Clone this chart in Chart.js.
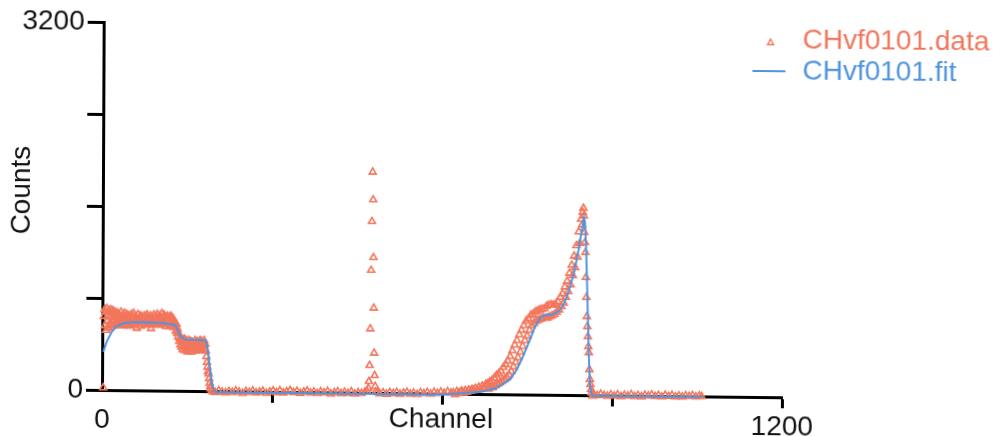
<!DOCTYPE html>
<html>
<head>
<meta charset="utf-8">
<script src="https://cdn.jsdelivr.net/npm/chart.js@4/dist/chart.umd.min.js"></script>
<style>
  html, body { margin: 0; padding: 0; background: #fff; }
  #wrap {
    position: relative; width: 1002px; height: 437px;
    transform: matrix(1, 0.0107, -0.0046, 1, 0, 0);
    transform-origin: 102px 390px;
  }
</style>
</head>
<body>
<div id="wrap"><canvas id="chart"></canvas></div>
<script>
// measured points (channel, counts)
const dataChannels = [
  2, 3,
  4, 5, 6, 7, 8, 9, 10, 11, 12, 13,
  14, 15, 16, 17, 18, 19, 20, 21, 22, 23,
  24, 25, 26, 27, 28, 29, 30, 31, 32, 33,
  34, 35, 36, 37, 38, 39, 40, 41, 42, 43,
  44, 45, 46, 47, 48, 49, 50, 51, 52, 53,
  54, 55, 56, 57, 58, 59, 60, 61, 62, 63,
  64, 65, 66, 67, 68, 69, 70, 71, 72, 73,
  74, 75, 76, 77, 78, 79, 80, 81, 82, 83,
  84, 85, 86, 87, 88, 89, 90, 91, 92, 93,
  94, 95, 96, 97, 98, 99, 100, 101, 102, 103,
  104, 105, 106, 107, 108, 109, 110, 111, 112, 113,
  114, 115, 116, 117, 118, 119, 120, 121, 122, 123,
  124, 125, 126, 127, 128,
  129, 130, 131, 132, 133, 134, 135, 136, 137, 138,
  139, 140, 141, 142, 143, 144, 145, 146, 147, 148,
  149, 150, 151, 152, 153, 154, 155, 156, 157, 158,
  159, 160, 161, 162, 163, 164, 165, 166, 167, 168,
  169, 170, 171, 172, 173, 174, 175, 176, 177, 178,
  179, 180, 181, 182, 183, 184, 185, 186, 187, 188,
  189, 190, 191, 192, 194, 196,
  200, 206, 212, 218, 224, 230, 236, 242, 248, 254, 260, 266, 272, 278, 284, 290, 296, 302, 308, 314,
  320, 326, 332, 338, 344, 350, 356, 362, 368, 374, 380, 386, 392, 398, 404, 410, 416, 422, 428, 434,
  440, 446, 452, 458, 464, 468,
  470, 471, 472, 473, 474, 475, 476, 477, 478, 479, 480, 481, 482, 483,
  486, 490, 496, 502, 508, 514, 520, 526, 532, 538, 544, 550, 556, 562, 568, 574, 580, 586, 592, 598,
  604, 610, 616,
  620, 623, 626, 629, 632, 635, 638, 641, 644, 647, 650, 653, 656, 659, 662, 665, 668, 671, 674, 677,
  680, 682, 684, 686, 688, 690, 692, 694, 696, 698,
  700, 702, 704, 706, 708, 710, 712, 714, 716, 718,
  720, 722, 724, 726, 728, 730, 732, 734, 736, 738,
  740, 742, 744, 746, 748, 750, 752, 754, 756, 758,
  760, 762, 764, 766, 768, 770, 772, 774, 776, 778,
  780, 782, 784, 786, 788, 790, 792, 794, 796, 798,
  800, 802, 804, 806, 808, 810, 812, 814, 816, 818,
  820, 822, 824, 826, 828, 830, 832, 834, 836, 838,
  840, 842, 844, 846, 847, 848,
  849, 850, 851, 852, 853, 854, 855, 856, 857, 858, 859, 860, 861, 862, 863, 864, 866,
  868, 874, 880, 886, 892, 898, 904, 910, 916, 922, 928, 934, 940, 946, 952, 958, 964, 970, 976, 982,
  988, 994, 1000, 1006, 1012, 1018, 1024, 1030, 1036, 1042, 1048, 1054, 1058
];
const dataCounts = [
  20, 640,
  700, 560, 680, 520, 710, 600, 650, 540, 690, 580,
  640, 700, 560, 670, 600, 690, 560, 650, 610, 680,
  570, 640, 600, 670, 580, 630, 660, 570, 620, 680,
  590, 640, 560, 650, 610, 670, 580, 630, 600, 660,
  570, 620, 650, 590, 640, 560, 610, 660, 580, 630,
  600, 670, 570, 620, 650, 590, 630, 540, 610, 660,
  580, 620, 600, 650, 560, 610, 640, 580, 620, 600,
  650, 570, 610, 640, 590, 660, 600, 630, 570, 620,
  590, 650, 540, 610, 580, 640, 600, 660, 570, 620,
  590, 640, 600, 665, 580, 630, 600, 650, 570, 620,
  590, 670, 580, 640, 600, 660, 590, 620, 560, 640,
  600, 650, 580, 620, 560, 640, 600, 650, 570, 610,
  590, 630, 550, 600, 570,
  560, 520, 580, 500, 540, 470, 500, 430, 460, 400,
  450, 380, 440, 360, 420, 390, 450, 350, 410, 440,
  370, 420, 340, 400, 440, 360, 410, 380, 430, 340,
  400, 420, 360, 410, 380, 440, 350, 400, 420, 370,
  430, 390, 350, 410, 440, 380, 400, 430, 360, 410,
  390, 440, 370, 410, 350, 300, 250, 210, 170, 150,
  110, 70, 40, 20, 5, -5,
  -10, 5, -5, -12, 0, -8, 6, -4, -15, 2, -6, 8, -10, -2, 5, -12, 0, 10, -5, 12,
  -8, 4, 15, -3, 8, -10, 2, 12, -6, 3, -9, 6, -4, 10, -12, 0, 7, -8, 4, -5,
  9, -10, 2, -4, 8, 15,
  40, 100, 239, 558, 1067, 1491, 1921, 1680, 1178, 738, 347, 152, 57, 10,
  5, -6, 3, -10, 6, -3, 8, -8, 2, 10, -5, 4, -9, 7, 0, 10, -4, 12, 3, 15,
  6, 18, 8,
  10, -5, 20, 5, 15, 25, 10, 30, 15, 35, 25, 40, 30, 50, 35, 60, 45, 70, 55, 85,
  90, 45, 105, 55, 120, 60, 140, 75, 165, 90,
  180, 100, 200, 115, 235, 130, 260, 150, 290, 170,
  330, 200, 380, 240, 430, 280, 470, 320, 520, 370,
  560, 420, 600, 470, 640, 510, 660, 560, 690, 600,
  700, 620, 720, 640, 730, 650, 740, 660, 745, 670,
  750, 665, 770, 670, 780, 680, 785, 690, 780, 700,
  790, 720, 810, 740, 850, 770, 880, 800, 940, 850,
  990, 900, 1060, 960, 1130, 1040, 1210, 1110, 1300, 1200,
  1420, 1320, 1530, 1480, 1590, 1626,
  1560, 1415, 1328, 1241, 1024, 850, 684, 597, 510, 423, 371, 223, 137, 93, 50, 20, -5,
  8, -2, 10, 0, -6, 6, -3, 8, -8, 4, -2, 9, -5, 3, -8, 6, 0, 10, -4, 5,
  -7, 7, -2, 8, -5, 4, -6, 6, 0, 8, -4, 5, 0
];

// fitted curve
const fitChannels = [
  2, 8, 17, 26, 38, 55, 76, 105, 122, 129, 133, 138, 146, 165, 182, 185, 187, 189, 191, 193,
  195, 197, 199, 202, 600, 620, 640, 660, 673, 690, 702, 712, 720, 732, 743, 755, 764, 773, 780, 785,
  796, 802, 808, 814, 820, 826, 832, 836, 840, 843, 846, 849, 851, 853, 855, 857, 859, 861, 863, 866, 1058
];
const fitCounts = [
  333, 421, 508, 558, 582, 592, 593, 586, 578, 568, 530, 475, 448, 446, 442, 400, 339, 250, 168, 95,
  50, 20, 0, -8, -8, 0, 8, 15, 24, 45, 70, 105, 129, 217, 333, 479, 595, 669, 690, 697,
  698, 715, 742, 790, 859, 955, 1063, 1160, 1266, 1360, 1441, 1543, 1500, 1300, 1000, 650, 330, 100, 20, -5, -5
];

const seriesNames = ["CHvf0101.data", "CHvf0101.fit"];
const xTickLabels = [0, 1200];
const yTickLabels = [0, 3200];
const xTitle = "Channel";
const yTitle = "Counts";

const dataColor = "#f2765c";
const fitColor = "#4f94df";
const font = "'Liberation Sans', Arial, sans-serif";

const textPlugin = {
  id: "textPlugin",
  afterDraw(chart) {
    const ctx = chart.ctx;
    ctx.save();
    ctx.font = "28px " + font;
    ctx.textBaseline = "middle";

    // axis titles
    ctx.fillStyle = "#111";
    ctx.textAlign = "center";
    ctx.fillText(xTitle, 441, 416);
    ctx.save();
    ctx.translate(21, 191);
    ctx.rotate(-Math.PI / 2);
    ctx.fillText(yTitle, 0, 0);
    ctx.restore();

    // legend
    ctx.textAlign = "left";
    ctx.strokeStyle = dataColor;
    ctx.lineWidth = 1.4;
    ctx.beginPath();
    ctx.moveTo(769, 32);
    ctx.lineTo(772, 37.5);
    ctx.lineTo(766, 37.5);
    ctx.closePath();
    ctx.stroke();
    ctx.fillStyle = dataColor;
    ctx.fillText(seriesNames[0], 801, 33);

    ctx.strokeStyle = fitColor;
    ctx.lineWidth = 2;
    ctx.beginPath();
    ctx.moveTo(751, 64);
    ctx.lineTo(784, 64);
    ctx.stroke();
    ctx.fillStyle = fitColor;
    ctx.fillText(seriesNames[1], 801, 64);
    ctx.restore();
  }
};

const ctx = document.getElementById("chart").getContext("2d");
new Chart(ctx, {
  type: "scatter",
  data: {
    datasets: [
      {
        label: seriesNames[1],
        data: fitChannels.map((c, i) => ({ x: c, y: fitCounts[i] })),
        showLine: true,
        borderColor: fitColor,
        borderWidth: 2,
        pointRadius: 0,
        tension: 0,
        clip: false,
        order: 0
      },
      {
        label: seriesNames[0],
        data: dataChannels.map((c, i) => ({ x: c, y: dataCounts[i] })),
        showLine: false,
        pointStyle: "triangle",
        pointRadius: 4,
        pointBorderWidth: 1.6,
        pointBorderColor: dataColor,
        pointBackgroundColor: "rgba(255,255,255,0)",
        clip: false,
        order: 1
      }
    ]
  },
  options: {
    responsive: true,
    maintainAspectRatio: false,
    animation: false,
    layout: { padding: { top: 22, right: 220, bottom: 0, left: 0 } },
    plugins: {
      legend: { display: false },
      tooltip: { enabled: false }
    },
    scales: {
      x: {
        type: "linear",
        min: 0,
        max: 1200,
        afterFit: (s) => { s.height = 47; },
        ticks: {
          stepSize: 300,
          autoSkip: false,
          maxRotation: 0,
          padding: 2,
          color: "#111",
          font: { family: font, size: 28 },
          callback: (v) => xTickLabels.includes(v) ? String(v) : ""
        },
        grid: {
          drawOnChartArea: false,
          drawTicks: true,
          tickLength: 11,
          tickWidth: 3,
          tickColor: (c) => (c.tick && c.tick.value === 0) ? "rgba(0,0,0,0)" : "#000"
        },
        border: { display: true, color: "#000", width: 3 }
      },
      y: {
        type: "linear",
        min: 0,
        max: 3200,
        afterFit: (s) => { s.width = 102; },
        ticks: {
          stepSize: 800,
          autoSkip: false,
          padding: 3,
          color: "#111",
          font: { family: font, size: 28 },
          callback: (v) => yTickLabels.includes(v) ? String(v) : ""
        },
        grid: {
          drawOnChartArea: false,
          drawTicks: true,
          tickLength: 16,
          tickWidth: 3,
          tickColor: "#000"
        },
        border: { display: true, color: "#000", width: 3 }
      }
    }
  },
  plugins: [textPlugin]
});
</script>
</body>
</html>
